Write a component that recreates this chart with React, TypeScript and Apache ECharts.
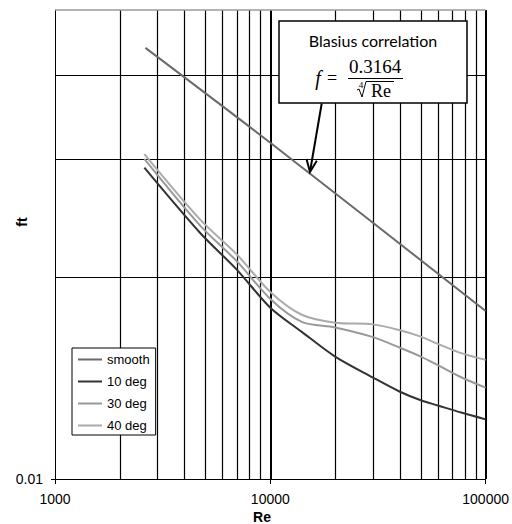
import React, { useEffect, useRef } from "react";
import * as echarts from "echarts";

// Reynolds numbers at which the roughened-tube curves are tabulated
const reynolds = [2600, 4700, 7000, 10000, 14000, 20000, 30000, 40000, 50000, 60000, 77000, 100000];
// Friction factor for each fin angle
const ft10deg = [0.0291, 0.0233, 0.0205, 0.018, 0.01657, 0.01522, 0.01416, 0.01349, 0.0131, 0.01287, 0.01256, 0.01227];
const ft30deg = [0.03, 0.0239, 0.0211, 0.01855, 0.01715, 0.01682, 0.01627, 0.01569, 0.01522, 0.01478, 0.01418, 0.01368];
const ft40deg = [0.0305, 0.0244, 0.0216, 0.019, 0.01757, 0.0171, 0.017, 0.01666, 0.0163, 0.0159, 0.0154, 0.01505];
// Smooth tube (Blasius)
const smoothRe = [2630, 10000, 100000];
const smoothFt = [0.0439, 0.0317, 0.0178];

// Axis ticks and grid positions
const xTicks = [1000, 10000, 100000];
const yTicks = [0.01];
const xMinorGrid = [2000, 3000, 4000, 5000, 6000, 7000, 8000, 9000, 20000, 30000, 40000, 50000, 60000, 70000, 80000, 90000];
const xMajorGrid = [10000, 100000];
const yGrid = [0.02, 0.03, 0.04];
const yTop = 0.05;

const pairs = (xs: number[], ys: number[]) => xs.map((x, i) => [x, ys[i]]);

const FONT = "Arial, 'Liberation Sans', sans-serif";
const SERIF = "'Times New Roman', 'Liberation Serif', serif";

export default function App() {
  const ref = useRef<HTMLDivElement>(null);

  useEffect(() => {
    if (!ref.current) return;
    const chart = echarts.init(ref.current, undefined, { renderer: "svg" });

    const gridLine = (color: string, width: number) => ({
      silent: true,
      symbol: ["none", "none"],
      label: { show: false },
      lineStyle: { color, width, type: "solid" as const },
      emphasis: { disabled: true },
    });

    const curve = (name: string, data: number[][], color: string) => ({
      name,
      type: "line" as const,
      data,
      smooth: 0.3,
      showSymbol: false,
      symbol: "none",
      lineStyle: { color, width: 2 },
      itemStyle: { color },
      z: 5,
    });

    chart.setOption({
      animation: false,
      backgroundColor: "#fff",
      grid: { left: 55, right: 25, top: 10, bottom: 45 },
      xAxis: {
        type: "log",
        logBase: 10,
        min: 1000,
        max: 100000,
        axisLine: { lineStyle: { color: "#000", width: 1 } },
        axisTick: { customValues: xTicks, length: 5, lineStyle: { color: "#000" } },
        axisLabel: {
          customValues: xTicks,
          formatter: (v: number) => String(Math.round(v)),
          color: "#000",
          fontSize: 14,
          fontFamily: FONT,
          margin: 13,
        },
        splitLine: { show: false },
      },
      yAxis: {
        type: "log",
        logBase: 10,
        min: 0.01,
        max: 0.05,
        axisLine: { show: true, lineStyle: { color: "#000", width: 1 } },
        axisTick: { show: true, customValues: yTicks, length: 4, lineStyle: { color: "#000" } },
        axisLabel: {
          customValues: yTicks,
          formatter: () => "0.01",
          color: "#000",
          fontSize: 14,
          fontFamily: FONT,
          margin: 12,
        },
        splitLine: { show: false },
      },
      legend: {
        orient: "vertical",
        left: 72,
        top: 348,
        data: ["smooth", "10 deg", "30 deg", "40 deg"],
        icon: "path://M0,0 L24,0 L24,2 L0,2 Z",
        itemWidth: 24,
        itemHeight: 14,
        itemGap: 9,
        padding: [5, 6, 3, 6],
        backgroundColor: "#fff",
        borderColor: "#000",
        borderWidth: 1,
        borderRadius: 0,
        selectedMode: false,
        textStyle: { color: "#000", fontSize: 13, fontFamily: FONT },
        z: 10,
      },
      series: [
        {
          type: "line",
          data: [],
          silent: true,
          z: 1,
          markLine: {
            ...gridLine("#000", 1.2),
            data: [
              ...xMinorGrid.map((v) => ({ xAxis: v })),
              ...yGrid.map((v) => ({ yAxis: v })),
            ],
          },
        },
        {
          type: "line",
          data: [],
          silent: true,
          z: 1,
          markLine: {
            ...gridLine("#000", 2),
            data: xMajorGrid.map((v) => ({ xAxis: v })),
          },
        },
        {
          type: "line",
          data: [],
          silent: true,
          z: 1,
          markLine: {
            ...gridLine("#9a9a9a", 1.5),
            data: [{ yAxis: yTop }],
          },
        },
        curve("smooth", pairs(smoothRe, smoothFt), "#6a6a6a"),
        curve("10 deg", pairs(reynolds, ft10deg), "#333333"),
        curve("30 deg", pairs(reynolds, ft30deg), "#999999"),
        curve("40 deg", pairs(reynolds, ft40deg), "#ababab"),
      ],
      graphic: [
        // axis names
        {
          type: "text",
          z: 50,
          x: 262,
          y: 517,
          style: { text: "Re", font: `bold 14px ${FONT}`, fill: "#000", align: "center", verticalAlign: "middle" },
        },
        {
          type: "text",
          z: 50,
          x: 22,
          y: 222,
          rotation: Math.PI / 2,
          style: { text: "ft", font: `bold 14px ${FONT}`, fill: "#000", align: "center", verticalAlign: "middle" },
        },
        // Blasius annotation box
        {
          type: "rect",
          z: 50,
          shape: { x: 279, y: 21, width: 188, height: 82 },
          style: { fill: "#fff", stroke: "#000", lineWidth: 1.5 },
        },
        {
          type: "text",
          z: 51,
          x: 373,
          y: 40,
          style: {
            text: "Blasius correlation",
            font: "16px Lato, 'Open Sans', sans-serif",
            fill: "#000",
            align: "center",
            verticalAlign: "middle",
          },
        },
        {
          type: "text",
          z: 51,
          x: 318,
          y: 78,
          style: { text: "f", font: `italic 20px ${SERIF}`, fill: "#000", align: "center", verticalAlign: "middle" },
        },
        {
          type: "text",
          z: 51,
          x: 332,
          y: 78,
          style: { text: "=", font: `18px ${SERIF}`, fill: "#000", align: "center", verticalAlign: "middle" },
        },
        {
          type: "text",
          z: 51,
          x: 375,
          y: 66,
          style: { text: "0.3164", font: `19px ${SERIF}`, fill: "#000", align: "center", verticalAlign: "middle" },
        },
        {
          type: "line",
          z: 51,
          shape: { x1: 348, y1: 78.5, x2: 403, y2: 78.5 },
          style: { stroke: "#000", lineWidth: 1 },
        },
        {
          type: "text",
          z: 51,
          x: 361,
          y: 85,
          style: { text: "4", font: `9px ${SERIF}`, fill: "#000", align: "center", verticalAlign: "middle" },
        },
        {
          type: "polyline",
          z: 51,
          shape: { points: [[357, 90], [359, 89], [362, 97], [366, 81.5], [394, 81.5]] },
          style: { stroke: "#000", lineWidth: 1, fill: null },
        },
        {
          type: "text",
          z: 51,
          x: 381,
          y: 91,
          style: { text: "Re", font: `18px ${SERIF}`, fill: "#000", align: "center", verticalAlign: "middle" },
        },
        // arrow pointing at the smooth-tube line
        {
          type: "line",
          z: 51,
          shape: { x1: 321.7, y1: 103.5, x2: 310.3, y2: 170 },
          style: { stroke: "#000", lineWidth: 2 },
        },
        {
          type: "polyline",
          z: 51,
          shape: { points: [[306.5, 159], [310, 172], [316.8, 160.8]] },
          style: { stroke: "#000", lineWidth: 2, fill: null },
        },
      ],
    });

    return () => chart.dispose();
  }, []);

  return (
    <div
      ref={ref}
      style={{ position: "fixed", left: 0, top: 0, width: 512, height: 524, background: "#fff" }}
    />
  );
}
